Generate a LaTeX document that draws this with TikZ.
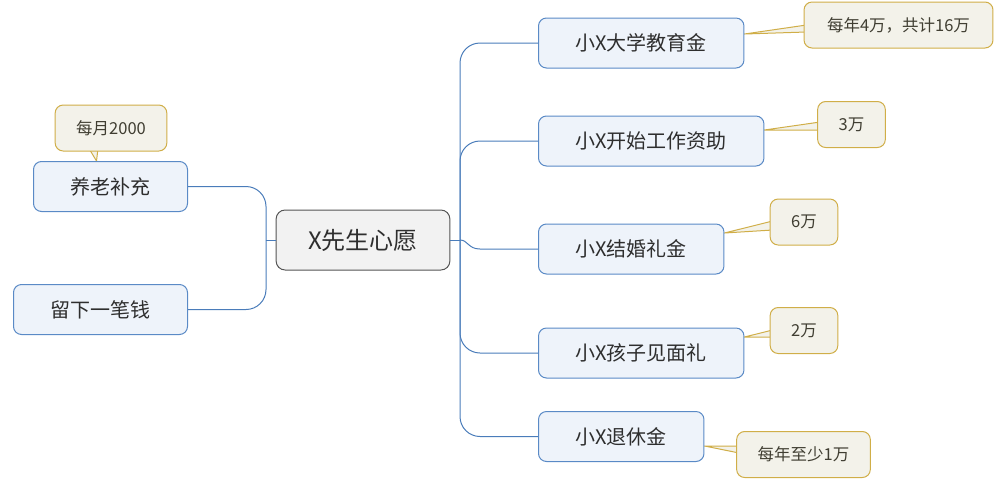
\documentclass[tikz,border=0pt]{standalone}
\usepackage{fontspec}
\setmainfont{Noto Sans CJK SC}
\usetikzlibrary{backgrounds}
\definecolor{topicfill}{HTML}{EEF3FA}
\definecolor{topicline}{HTML}{5A8AC6}
\definecolor{linkblue}{HTML}{4A7CBA}
\definecolor{rootfill}{HTML}{F2F2F2}
\definecolor{rootline}{HTML}{555555}
\definecolor{notefill}{HTML}{F3F2EA}
\definecolor{noteline}{HTML}{D0AE48}
\definecolor{textgray}{HTML}{2E2E2E}
\definecolor{notetext}{HTML}{403E32}

\begin{document}
\begin{tikzpicture}[x=1pt,y=-1pt,
    root/.style={draw=rootline, fill=rootfill, rounded corners=9pt, line width=1pt,
        minimum height=60pt, inner xsep=32pt, text=textgray, font=\fontsize{24}{28}\selectfont},
    topic/.style={draw=topicline, fill=topicfill, rounded corners=8pt, line width=1pt,
        minimum height=50pt, inner xsep=37pt, text=textgray, font=\fontsize{20}{24}\selectfont},
    note/.style={draw=noteline, fill=notefill, rounded corners=8pt, line width=1pt,
        minimum height=46pt, inner xsep=21pt, text=notetext, font=\fontsize{16.5}{20}\selectfont},
    pointer/.style={draw=noteline, fill=notefill, line width=1pt, line join=round},
    link/.style={draw=linkblue, line width=1pt}]
    \useasboundingbox (0,0) rectangle (996,480);

    \node[root] (root) at (363,240) {X先生心愿};
    \coordinate (lbus) at (266,240);
    \coordinate (rbus) at (460,240);

    \node[topic, anchor=east] (l1) at (188,186.5) {养老补充};
    \node[topic, anchor=east] (l2) at (188,309.5) {留下一笔钱};

    \node[topic, anchor=west] (n1) at (538,43) {小X大学教育金};
    \node[topic, anchor=west] (n2) at (538,141) {小X开始工作资助};
    \node[topic, anchor=west] (n3) at (538,249) {小X结婚礼金};
    \node[topic, anchor=west] (n4) at (538,353) {小X孩子见面礼};
    \node[topic, anchor=west] (n5) at (538,436.5) {小X退休金};

    \node[note] (c0) at (111,128) {每月2000};
    \node[note, inner xsep=23pt] (c1) at (898.5,25) {每年4万，共计16万};
    \node[note] (c2) at (851.5,124.5) {3万};
    \node[note] (c3) at (804,222) {6万};
    \node[note] (c4) at (804,330.5) {2万};
    \node[note] (c5) at (803.5,454.5) {每年至少1万};

    % connectors
    \draw[link] (root.west) -- (lbus);
    \draw[link] (root.east) -- (rbus);
    \foreach \n in {l1,l2}
        \draw[link, rounded corners=20pt] (lbus) |- (\n.east);
    \foreach \n in {n1,n2,n4,n5}
        \draw[link, rounded corners=20pt] (rbus) |- (\n.west);
    \draw[link] (rbus) .. controls +(8,0) and +(-12,0) .. ([xshift=-58]n3.west) -- (n3.west);

    % callout pointers
    \begin{scope}[on background layer]
        \foreach \c/\n/\t/\a/\b in {c1/n1/9/0/-7, c2/n2/11/2.5/-5.5, c3/n3/16/1/-8,
                                    c4/n4/16/0.5/-6.5, c5/n5/-9.5/8.5/1.5}
            \draw[pointer] ([yshift=\t]\n.east) -- ([xshift=3,yshift=\a]\c.west)
                -- ([xshift=3,yshift=\b]\c.west) -- cycle;
        \draw[pointer] ([xshift=-14]l1.north) -- ([xshift=-22,yshift=3]c0.south)
            -- ([xshift=-13,yshift=3]c0.south) -- cycle;
    \end{scope}
\end{tikzpicture}
\end{document}
